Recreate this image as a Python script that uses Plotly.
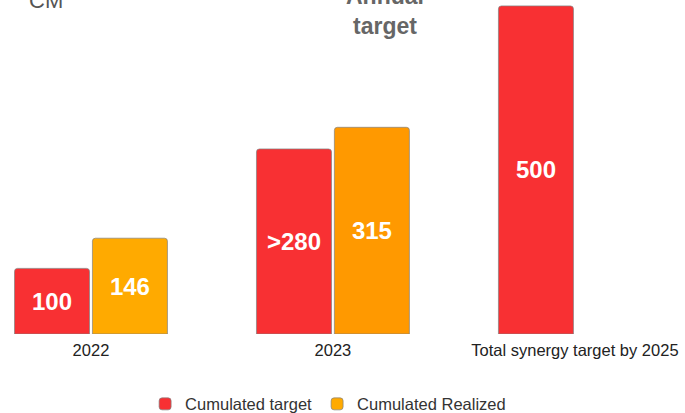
import plotly.graph_objects as go

categories = ["2022", "2023", "Total synergy target by 2025"]
target_values = [100, 282, 500]
target_labels = ["100", ">280", "500"]
realized_values = [146, 315, None]
realized_labels = ["146", "315", ""]

RED = "#F83033"
ORANGE = ["#FFAA00", "#FF9900", "#FF9900"]
FONT = "Liberation Sans, Arial, sans-serif"

fig = go.Figure()
fig.add_trace(go.Bar(
    x=categories, y=target_values, name="Cumulated target",
    text=target_labels, textposition="inside", insidetextanchor="middle",
    textfont=dict(family=FONT, size=24, color="white", weight="bold"),
    marker=dict(color=RED, line=dict(color="rgba(130,130,130,0.7)", width=1), cornerradius=3),
    width=0.31, offset=-0.316, constraintext="none",
))
fig.add_trace(go.Bar(
    x=categories, y=realized_values, name="Cumulated Realized",
    text=realized_labels, textposition="inside", insidetextanchor="middle",
    textfont=dict(family=FONT, size=24, color="white", weight="bold"),
    marker=dict(color=ORANGE, line=dict(color="rgba(130,130,130,0.7)", width=1), cornerradius=3),
    width=0.31, offset=0.006, constraintext="none",
))

fig.add_annotation(text="CM", x=0.067, y=0.998, xref="paper", yref="paper",
                   xanchor="center", yanchor="middle", showarrow=False,
                   font=dict(family=FONT, size=22, color="#555555"))
fig.add_annotation(text="<b>Annual<br>target</b>", x=0.562, y=0.967, xref="paper", yref="paper",
                   xanchor="center", yanchor="middle", showarrow=False,
                   font=dict(family=FONT, size=23, color="#666666"))

fig.update_layout(
    width=685, height=413,
    margin=dict(l=0, r=0, t=0, b=79, autoexpand=False),
    paper_bgcolor="white", plot_bgcolor="white",
    barmode="group",
    showlegend=True,
    legend=dict(orientation="h", x=0.479, xanchor="center", y=-0.21, yanchor="middle",
                font=dict(family=FONT, size=16.5, color="#333333")),
    xaxis=dict(range=[-0.376, 2.455], showgrid=False, showline=False,
               ticks="outside", ticklen=1, tickcolor="rgba(0,0,0,0)",
               tickfont=dict(family=FONT, size=16.5, color="#222222"), fixedrange=True),
    yaxis=dict(range=[0, 509], visible=False, fixedrange=True),
)

fig.write_html("out.html", config={"displayModeBar": False},
               post_script="document.body.style.margin='0';document.body.style.overflow='hidden';")
